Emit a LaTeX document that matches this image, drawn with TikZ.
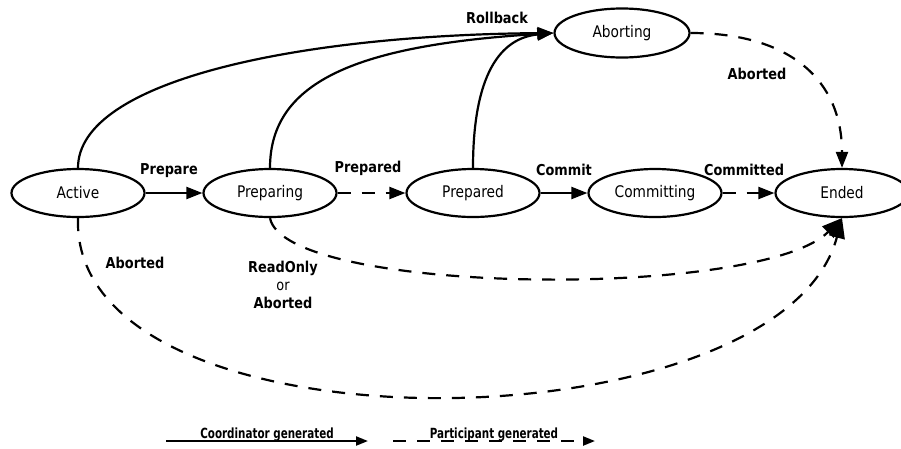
\documentclass[tikz,border=0pt]{standalone}
\usepackage{fontspec}
\setmainfont{DejaVu Sans}
\newfontfamily\labfont[FakeStretch=0.86]{DejaVu Sans}
\newfontfamily\legfont[FakeStretch=0.74]{DejaVu Sans}
\usetikzlibrary{arrows.meta,shapes.geometric}
\begin{document}
\begin{tikzpicture}[x=1pt,y=-1pt,
  state/.style={ellipse, draw, line width=2.2pt, minimum width=133pt, minimum height=48pt, inner sep=0pt, font=\labfont\fontsize{16}{18}\selectfont},
  lbl/.style={font=\labfont\bfseries\fontsize{15}{18}\selectfont, align=center, inner sep=0pt},
  leg/.style={font=\legfont\bfseries\fontsize{14}{16}\selectfont, inner sep=0pt},
  conn/.style={line width=2.2pt, -{Triangle[length=16pt,width=12pt]}},
  dsh/.style={conn, dash pattern=on 13pt off 11pt},
  bigdsh/.style={line width=2.2pt, dash pattern=on 13pt off 11pt, -{Triangle[length=20pt,width=16pt]}}]
\useasboundingbox (0,0) rectangle (901,448);
\node[state] (active) at (78,193) {Active};
\node[state] (preparing) at (270,193) {Preparing};
\node[state] (prepared) at (473,193) {Prepared};
\node[state] (committing) at (655,193) {Committing};
\node[state] (ended) at (842,193) {Ended};
\node[state, minimum width=135pt, minimum height=49pt] (aborting) at (622,33) {Aborting};

\draw[conn] (active) -- (preparing);
\draw[dsh] (preparing) -- (prepared);
\draw[conn] (prepared) -- (committing);
\draw[dsh] (committing) -- (ended);

\draw[conn] (active.north) .. controls (78,80) and (300,35) .. (aborting.west);
\draw[conn] (preparing.north) .. controls (270,80) and (360,45) .. (aborting.west);
\draw[conn] (prepared.north) .. controls (473,75) and (500,38) .. (aborting.west);

\draw[dsh] (aborting.east) .. controls (790,33) and (842,80) .. (ended.north);

\draw[bigdsh] (preparing.south) .. controls (285,295) and (760,300) .. (ended.south);
\draw[bigdsh] (active.south) .. controls (70,460) and (780,450) .. (ended.south);

\node[lbl] (lrollback) at (497,18) {Rollback};
\node[lbl] (labort1) at (757,74) {Aborted};
\node[lbl] (lprepare) at (169,171) {Prepare};
\node[lbl] (lprepared) at (368,168) {Prepared};
\node[lbl] (lcommit) at (564,170) {Commit};
\node[lbl] (lcommitted) at (744,170) {Committed};
\node[lbl] (labort2) at (135,263) {Aborted};
\node[lbl] (lreadonly) at (283,285) {ReadOnly\\{\mdseries or}\\Aborted};

\coordinate (c1) at (166,441);
\coordinate (c2) at (368,441);
\coordinate (p1) at (393,441);
\coordinate (p2) at (595,441);
\draw[line width=2.2pt, -{Triangle[length=12pt,width=9pt]}] (c1) -- (c2);
\draw[line width=2.2pt, dash pattern=on 13pt off 11pt, -{Triangle[length=12pt,width=9pt]}] (p1) -- (p2);
\node[leg, anchor=base] (lcoord) at (267,438) {Coordinator generated};
\node[leg, anchor=base] (lpart) at (494,438) {Participant generated};
\end{tikzpicture}
\end{document}
